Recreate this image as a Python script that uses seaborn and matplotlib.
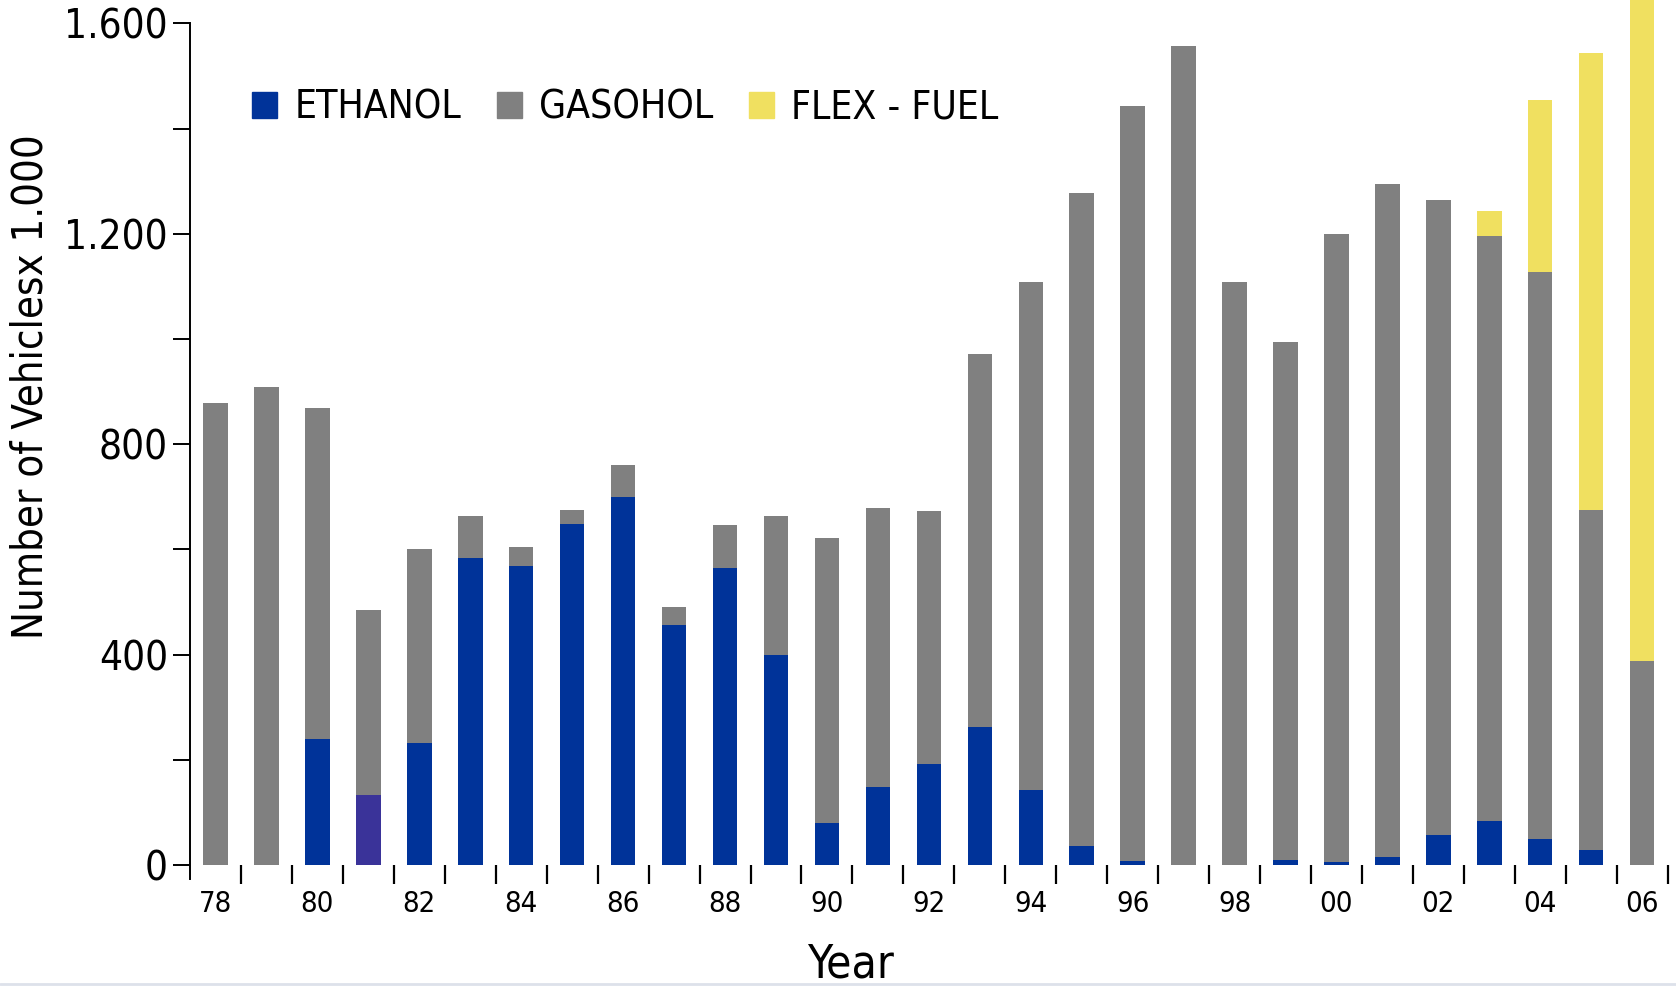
import matplotlib
matplotlib.use("Agg")
import matplotlib.pyplot as plt
from matplotlib.patches import Patch
from matplotlib.lines import Line2D
from matplotlib.ticker import FuncFormatter, MultipleLocator, FixedLocator
import seaborn as sns
import pandas as pd
import numpy as np

# values (thousands of vehicles)
years = ["78", "79", "80", "81", "82", "83", "84", "85", "86", "87",
         "88", "89", "90", "91", "92", "93", "94", "95", "96", "97",
         "98", "99", "00", "01", "02", "03", "04", "05", "06"]
ethanol = [0, 0, 240, 134, 232, 583, 569, 648, 699, 457,
           565, 400, 79, 148, 193, 262, 142, 37, 8, 0,
           0, 10, 6, 16, 57, 83, 49, 28, 0]
gasohol = [878, 908, 628, 350, 368, 80, 35, 27, 61, 33,
           81, 263, 543, 531, 480, 710, 966, 1241, 1435, 1557,
           1108, 984, 1193, 1279, 1207, 1112, 1079, 647, 388]
flex = [0, 0, 0, 0, 0, 0, 0, 0, 0, 0,
        0, 0, 0, 0, 0, 0, 0, 0, 0, 0,
        0, 0, 0, 0, 0, 49, 327, 868, 1430]

c_eth = "#003399"
c_eth81 = "#3a3399"
c_gas = "#808080"
c_flex = "#f0e060"

df = pd.DataFrame({"year": years, "ethanol": ethanol, "gasohol": gasohol, "flex": flex})
df["eth_gas"] = df["ethanol"] + df["gasohol"]
df["total"] = df["eth_gas"] + df["flex"]

sns.set_style("white")
plt.rcParams["font.family"] = ["DejaVu Sans"]
plt.rcParams["font.stretch"] = "condensed"
plt.rcParams["text.color"] = "black"
plt.rcParams["axes.labelcolor"] = "black"
plt.rcParams["xtick.color"] = "black"
plt.rcParams["ytick.color"] = "black"

fig = plt.figure(figsize=(16.76, 9.86), dpi=100)
ax = fig.add_axes([0.1134, 0.1227, 0.8816, 0.8535])

w = 0.48
kw = dict(width=w, saturation=1, linewidth=0, ax=ax)
sns.barplot(data=df, x="year", y="total", color=c_flex, **kw)
sns.barplot(data=df, x="year", y="eth_gas", color=c_gas, **kw)
eth_colors = [c_eth81 if y == "81" else c_eth for y in years]
sns.barplot(data=df, x="year", y="ethanol", hue="year", palette=eth_colors,
            legend=False, dodge=False, **kw)
# the 2006 bar runs off the top of the chart
for p in ax.patches:
    p.set_clip_on(False)

ax.set_xlim(-0.5, len(years) - 0.5)
ax.set_ylim(0, 1600)

# y axis
ax.yaxis.set_major_locator(MultipleLocator(400))
ax.yaxis.set_minor_locator(MultipleLocator(200))
ax.yaxis.set_major_formatter(FuncFormatter(lambda v, p: f"{int(v):,}".replace(",", ".")))
ax.tick_params(axis="y", which="both", direction="out", length=12, width=1.4, color="black",
               left=True, labelsize=29, pad=4)

# x axis: marks between bars, labels every second year
ax.xaxis.set_major_locator(FixedLocator(np.arange(0, len(years), 2)))
ax.set_xticklabels(years[::2])
ax.xaxis.set_minor_locator(FixedLocator(np.arange(0.5, len(years), 1)))
ax.tick_params(axis="x", which="major", length=0, labelsize=21, pad=18)
ax.tick_params(axis="x", which="minor", direction="out", length=14, width=1.6,
               color="black", bottom=True)

for s in ["top", "right", "bottom"]:
    ax.spines[s].set_visible(False)
ax.spines["left"].set_color("black")
ax.spines["left"].set_linewidth(1.4)
ax.spines["left"].set_bounds(-27, 1600)

ax.set_xlabel("Year", fontsize=33)
ax.xaxis.set_label_coords(0.447, -0.092)
ax.set_ylabel("Number of Vehiclesx 1.000", fontsize=30)
ax.yaxis.set_label_coords(-0.094, 0.568)

handles = [Patch(color=c_eth, label="ETHANOL"),
           Patch(color=c_gas, label="GASOHOL"),
           Patch(color=c_flex, label="FLEX - FUEL")]
ax.legend(handles=handles, loc="center left", bbox_to_anchor=(0.042, 0.9), ncol=3,
          frameon=False, fontsize=28, handlelength=0.65, handleheight=0.65,
          handletextpad=0.45, columnspacing=0.9, borderpad=0, borderaxespad=0)

fig.add_artist(Line2D([0, 1], [0.002, 0.002], transform=fig.transFigure,
                      color="#dde1ea", lw=2))

fig.savefig("out.png", dpi=100)
